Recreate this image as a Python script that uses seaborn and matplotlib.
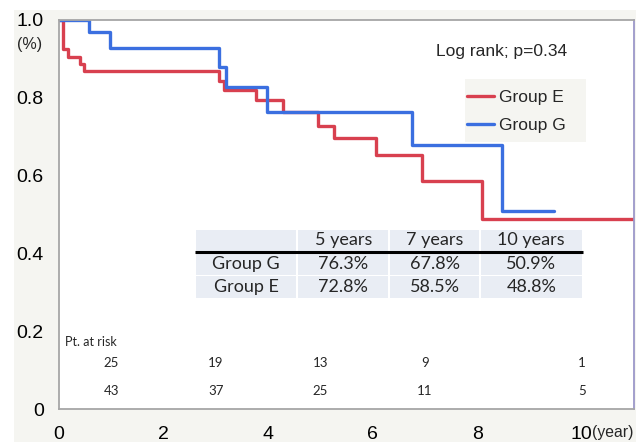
import matplotlib
matplotlib.use("Agg")
import matplotlib.pyplot as plt
from matplotlib.patches import Rectangle
from matplotlib.ticker import FixedLocator
import pandas as pd
import seaborn as sns

# Kaplan-Meier step values (time in years, survival proportion)
time_E = [0.0, 0.07, 0.18, 0.40, 0.48, 3.07, 3.16, 3.77, 4.28, 4.96, 5.27, 6.06, 6.95, 8.09, 11.0]
surv_E = [1.0, 0.925, 0.906, 0.886, 0.869, 0.843, 0.820, 0.794, 0.763, 0.728, 0.697, 0.653, 0.585, 0.488, 0.488]
time_G = [0.0, 0.58, 0.97, 3.07, 3.19, 3.98, 6.76, 8.47, 9.47]
surv_G = [1.0, 0.968, 0.929, 0.880, 0.827, 0.763, 0.678, 0.509, 0.509]

groups = ["Group E", "Group G"]
colors = {"Group E": "#d8404f", "Group G": "#3b6fe0"}

# Survival summary table
table_cols = ["5 years", "7 years", "10 years"]
table_rows = ["Group G", "Group E"]
table_vals = [["76.3%", "67.8%", "50.9%"],
              ["72.8%", "58.5%", "48.8%"]]

# Numbers at risk
risk_times = [1, 3, 5, 7, 10]
risk_G = [25, 19, 13, 9, 1]
risk_E = [43, 37, 25, 11, 5]

x_ticks = [0, 2, 4, 6, 8, 10]
x_ticklabels = ["0", "2", "4", "6", "8", "10"]
y_ticks = [0, 0.2, 0.4, 0.6, 0.8, 1.0]
y_ticklabels = ["0", "0.2", "0.4", "0.6", "0.8", "1.0"]

sns.set_style("white")
plt.rcParams["font.family"] = ["Liberation Sans", "DejaVu Sans"]

W, H = 640, 442
fig = plt.figure(figsize=(W / 100, H / 100), dpi=100, facecolor="white")

def fx(px):
    return px / W

def fy(py):
    return 1 - py / H

# light grey panel behind the plot
fig.patches.append(Rectangle((fx(14), 0), fx(636) - fx(14), fy(10), transform=fig.transFigure,
                             facecolor="#f5f5f1", edgecolor="none", zorder=-5))

ax = fig.add_axes([fx(59), fy(409), fx(634) - fx(59), fy(20) - fy(409)])
ax.set_facecolor("white")

df = pd.concat([
    pd.DataFrame({"time": time_E, "survival": surv_E, "group": "Group E"}),
    pd.DataFrame({"time": time_G, "survival": surv_G, "group": "Group G"}),
])
sns.lineplot(data=df, x="time", y="survival", hue="group", hue_order=groups, palette=colors,
             drawstyle="steps-post", estimator=None, linewidth=2.4, ax=ax, legend=False)

ax.set_xlim(0, 11)
ax.set_ylim(0, 1.0)
ax.set_xlabel("")
ax.set_ylabel("")
ax.xaxis.set_major_locator(FixedLocator(x_ticks))
ax.set_xticklabels(x_ticklabels)
ax.xaxis.set_minor_locator(FixedLocator([1, 3, 5, 7, 9]))
ax.yaxis.set_major_locator(FixedLocator(y_ticks))
ax.set_yticklabels(y_ticklabels)
ax.yaxis.set_minor_locator(FixedLocator([0.1, 0.3, 0.5, 0.7, 0.9]))

grey = "#a6a6a6"
for side in ["left", "bottom", "top"]:
    ax.spines[side].set_color(grey)
    ax.spines[side].set_linewidth(1.3)
    ax.spines[side].set_visible(True)
ax.spines["right"].set_color("#9c97c9")
ax.spines["right"].set_linewidth(1.3)
ax.spines["right"].set_visible(True)

ax.tick_params(axis="both", which="major", direction="out", length=7, width=1.3, color=grey,
               labelsize=14, labelcolor="black")
ax.tick_params(axis="both", which="minor", direction="out", length=4, width=1.3, color=grey)
ax.tick_params(axis="x", which="major", pad=5)
ax.tick_params(axis="y", which="major", pad=4)

fig.text(fx(30), fy(44), "(%)", ha="center", va="center", fontsize=11.5)
fig.text(fx(592), fy(433), "(year)", ha="left", va="center", fontsize=11.3)

ax.text(0.769, 0.92, "Log rank; p=0.34", transform=ax.transAxes, ha="center", va="center",
        fontsize=12.5)

# legend with its own grey background box
ax.add_patch(Rectangle((0.706, 0.686), 0.211, 0.162, transform=ax.transAxes,
                       facecolor="#f5f5f1", edgecolor="none", zorder=3))
handles = [plt.Line2D([], [], color=colors[g], linewidth=2.4) for g in groups]
leg = ax.legend(handles, groups, loc="upper left", bbox_to_anchor=(0.709, 0.82), frameon=False,
                fontsize=12.5, handlelength=1.55, handletextpad=0.3, labelspacing=0.75,
                borderpad=0, borderaxespad=0)
leg.set_zorder(4)

# survival summary table (data coordinates)
tf = ["Lato", "DejaVu Sans"]
col_edges = [2.595, 4.56, 6.32, 8.05, 10.02]
row_edges = [0.463, 0.404, 0.343, 0.283]
fill = "#e9edf4"
gap_x, gap_y = 0.02, 0.002
for r in range(3):
    for c in range(4):
        x0, x1 = col_edges[c], col_edges[c + 1]
        y1, y0 = row_edges[r], row_edges[r + 1]
        ax.add_patch(Rectangle((x0 + gap_x, y0 + gap_y), (x1 - x0) - 2 * gap_x, (y1 - y0) - 2 * gap_y,
                               facecolor=fill, edgecolor="none", zorder=2))
ax.plot([col_edges[0], col_edges[-1]], [row_edges[1], row_edges[1]], color="black",
        linewidth=2.2, zorder=3, solid_capstyle="butt")
for c, name in enumerate(table_cols):
    xc = (col_edges[c + 1] + col_edges[c + 2]) / 2
    ax.text(xc, (row_edges[0] + row_edges[1]) / 2, name, ha="center", va="center",
            fontsize=13, family=tf, zorder=4)
for r, name in enumerate(table_rows):
    yc = (row_edges[r + 1] + row_edges[r + 2]) / 2
    ax.text((col_edges[0] + col_edges[1]) / 2, yc, name, ha="center", va="center",
            fontsize=13, family=tf, zorder=4)
    for c, val in enumerate(table_vals[r]):
        xc = (col_edges[c + 1] + col_edges[c + 2]) / 2
        ax.text(xc, yc, val, ha="center", va="center", fontsize=13, family=tf, zorder=4)

# numbers at risk
ax.text(0.11, 0.173, "Pt. at risk", ha="left", va="center", fontsize=9, family=tf)
for t, g, e in zip(risk_times, risk_G, risk_E):
    ax.text(t, 0.118, str(g), ha="center", va="center", fontsize=9.5, family=tf)
    ax.text(t, 0.046, str(e), ha="center", va="center", fontsize=9.5, family=tf)

fig.savefig("out.png", dpi=100, facecolor="white")
